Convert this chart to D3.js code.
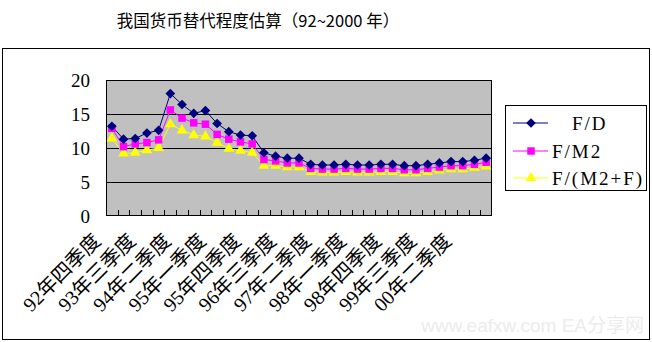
<!DOCTYPE html>
<html>
<head>
<meta charset="utf-8">
<script src="https://cdn.jsdelivr.net/npm/d3@7"></script>
<style>
  html, body { margin: 0; padding: 0; background: #fff; }
  svg { display: block; }
</style>
</head>
<body>
<svg id="chart" width="652" height="342"></svg>
<script>
// Quarterly periods, 1992 Q4 through 2000 Q4
const quarters = [
  "92年四季度","93年一季度","93年二季度","93年三季度","93年四季度",
  "94年一季度","94年二季度","94年三季度","94年四季度",
  "95年一季度","95年二季度","95年三季度","95年四季度",
  "96年一季度","96年二季度","96年三季度","96年四季度",
  "97年一季度","97年二季度","97年三季度","97年四季度",
  "98年一季度","98年二季度","98年三季度","98年四季度",
  "99年一季度","99年二季度","99年三季度","99年四季度",
  "00年一季度","00年二季度","00年三季度","00年四季度"
];

// Currency substitution ratios (%)
const fOverD = [13.2, 11.3, 11.4, 12.2, 12.6, 18.0, 16.4, 15.1, 15.5, 13.6, 12.4, 11.9, 11.8,
  9.3, 8.8, 8.5, 8.5, 7.6, 7.5, 7.5, 7.6, 7.5, 7.5, 7.6, 7.6, 7.4, 7.4, 7.6, 7.8, 8.0, 8.0, 8.2, 8.5];
const fOverM2 = [12.9, 10.2, 10.6, 10.8, 11.2, 15.6, 14.4, 13.7, 13.5, 12.0, 11.3, 10.9, 10.6,
  8.3, 8.1, 7.8, 7.8, 7.0, 6.9, 6.9, 7.0, 6.9, 6.9, 7.0, 7.0, 6.8, 6.8, 7.0, 7.2, 7.4, 7.4, 7.6, 7.9];
const fOverM2F = [11.4, 9.2, 9.3, 9.7, 10.0, 13.5, 12.6, 11.9, 11.7, 10.8, 9.9, 9.6, 9.3,
  7.4, 7.4, 7.2, 7.2, 6.5, 6.4, 6.4, 6.5, 6.4, 6.4, 6.5, 6.5, 6.3, 6.3, 6.5, 6.7, 6.9, 6.9, 7.1, 7.3];

const yTicks = [0, 5, 10, 15, 20];
const seriesNames = ["F/D", "F/M2", "F/(M2+F)"];
const titleText = "我国货币替代程度估算（92~2000 年）";

const series = [
  { name: seriesNames[0], values: fOverD, color: "#000080", marker: "diamond" },
  { name: seriesNames[1], values: fOverM2, color: "#FF00FF", marker: "square" },
  { name: seriesNames[2], values: fOverM2F, color: "#FFFF00", marker: "triangle" }
];

const svg = d3.select("#chart");
const plot = { left: 106, right: 492, top: 80, bottom: 216 };

const x = d3.scaleBand().domain(quarters).range([plot.left, plot.right]).padding(0);
const y = d3.scaleLinear().domain([0, 20]).range([plot.bottom, plot.top]);

// Outer chart frame
svg.append("rect")
  .attr("x", 2.5).attr("y", 48.5).attr("width", 647).attr("height", 291)
  .attr("fill", "none").attr("stroke", "#000").attr("stroke-width", 1);

// Title
svg.append("text")
  .attr("x", 258).attr("y", 27)
  .attr("text-anchor", "middle")
  .attr("font-family", "'Noto Sans CJK SC', sans-serif")
  .attr("font-size", 16.5)
  .attr("fill", "#000")
  .text(titleText);

// Plot background
svg.append("rect")
  .attr("x", plot.left).attr("y", plot.top)
  .attr("width", plot.right - plot.left).attr("height", plot.bottom - plot.top)
  .attr("fill", "#C0C0C0");

// Horizontal gridlines
svg.append("g")
  .selectAll("line")
  .data(yTicks.filter(d => d > 0 && d < 20))
  .join("line")
  .attr("x1", plot.left).attr("x2", plot.right)
  .attr("y1", d => Math.round(y(d)) + 0.5).attr("y2", d => Math.round(y(d)) + 0.5)
  .attr("stroke", "#000").attr("stroke-width", 1);

// Plot border
svg.append("rect")
  .attr("x", plot.left + 0.5).attr("y", plot.top + 0.5)
  .attr("width", plot.right - plot.left - 1).attr("height", plot.bottom - plot.top - 1)
  .attr("fill", "none").attr("stroke", "#000").attr("stroke-width", 1);

// Y axis labels
const yAxis = d3.axisLeft(y).tickValues(yTicks).tickSize(0).tickPadding(16);
const gy = svg.append("g").attr("transform", `translate(${plot.left},0)`).call(yAxis);
gy.select(".domain").remove();
gy.selectAll("text")
  .attr("font-family", "'Liberation Serif', serif")
  .attr("font-size", 19)
  .attr("fill", "#000");

// Category tick marks (between categories, pointing into the plot)
const boundaries = quarters.slice(1).map(q => x(q));
svg.append("g")
  .selectAll("line")
  .data(boundaries)
  .join("line")
  .attr("x1", d => Math.round(d) + 0.5).attr("x2", d => Math.round(d) + 0.5)
  .attr("y1", plot.bottom).attr("y2", plot.bottom - 6)
  .attr("stroke", "#000").attr("stroke-width", 1);

// Rotated category labels, every third quarter
const labelled = quarters.filter((q, i) => i % 3 === 0);
svg.append("g")
  .selectAll("text")
  .data(labelled)
  .join("text")
  .attr("transform", d => `translate(${x(d) + x.bandwidth() / 2 - 10},242) rotate(-45)`)
  .attr("text-anchor", "end")
  .attr("font-family", "'Liberation Serif', 'Noto Sans CJK SC', serif")
  .attr("font-size", 20)
  .attr("fill", "#000")
  .text(d => d);

// Series lines and markers
const cx = (d, i) => x(quarters[i]) + x.bandwidth() / 2;
const line = d3.line().x((d, i) => cx(d, i)).y(d => y(d));

const symbolFor = {
  diamond: d3.symbol().type(d3.symbolDiamond2).size(60),
  square: d3.symbol().type(d3.symbolSquare).size(56),
  triangle: d3.symbol().type(d3.symbolTriangle).size(50)
};

series.forEach(s => {
  svg.append("path")
    .datum(s.values)
    .attr("d", line)
    .attr("fill", "none")
    .attr("stroke", s.color)
    .attr("stroke-width", 1);
});
// Markers drawn from the last series to the first so the diamonds stay on top
series.slice().reverse().forEach(s => {
  svg.append("g")
    .selectAll("path")
    .data(s.values)
    .join("path")
    .attr("transform", (d, i) => `translate(${cx(d, i)},${y(d)})`)
    .attr("d", symbolFor[s.marker]())
    .attr("fill", s.color);
});

// Legend
const legend = svg.append("g");
legend.append("rect")
  .attr("x", 505.5).attr("y", 105.5).attr("width", 141).attr("height", 85)
  .attr("fill", "#fff").attr("stroke", "#000").attr("stroke-width", 1);
const legendRows = [123, 151, 178];
const legendTextX = [572, 552, 552];
series.forEach((s, i) => {
  const ly = legendRows[i];
  legend.append("line")
    .attr("x1", 513).attr("x2", 548).attr("y1", ly).attr("y2", ly)
    .attr("stroke", s.color).attr("stroke-width", 1);
  legend.append("path")
    .attr("transform", `translate(531,${ly})`)
    .attr("d", symbolFor[s.marker]())
    .attr("fill", s.color);
  legend.append("text")
    .attr("x", legendTextX[i]).attr("y", ly + 7)
    .attr("font-family", "'Liberation Serif', serif")
    .attr("font-size", 19)
    .attr("letter-spacing", 2)
    .attr("fill", "#000")
    .text(s.name);
});

// Site mark in the lower right corner
svg.append("text")
  .attr("x", 644).attr("y", 332)
  .attr("text-anchor", "end")
  .attr("font-family", "Arial, 'Liberation Sans', 'Noto Sans CJK SC', sans-serif")
  .attr("font-size", 19)
  .attr("fill", "#ececec")
  .text("www.eafxw.com  EA分享网");
</script>
</body>
</html>
